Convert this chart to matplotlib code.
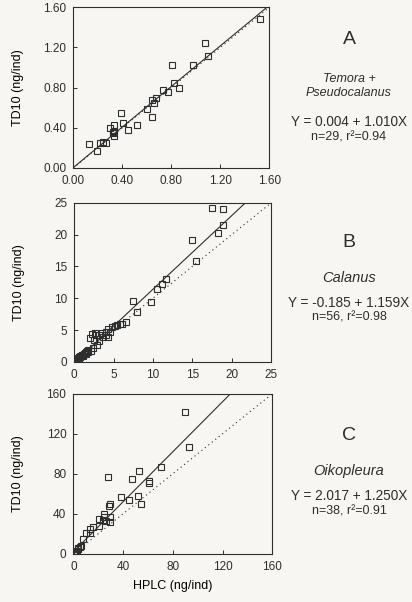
import matplotlib.pyplot as plt
import numpy as np

# panel A: Temora + Pseudocalanus
a_hplc = [0.13, 0.19, 0.22, 0.245, 0.27, 0.30, 0.32, 0.327, 0.33, 0.335, 0.335,
          0.386, 0.408, 0.449, 0.522, 0.60, 0.64, 0.645, 0.657, 0.672, 0.735,
          0.776, 0.806, 0.825, 0.865, 0.974, 1.072, 1.10, 1.52]
a_td10 = [0.235, 0.165, 0.247, 0.26, 0.253, 0.40, 0.36, 0.35, 0.318, 0.43, 0.37,
          0.547, 0.447, 0.38, 0.43, 0.59, 0.507, 0.68, 0.645, 0.693, 0.78,
          0.757, 1.02, 0.847, 0.80, 1.02, 1.247, 1.11, 1.48]

# panel B: Calanus
b_hplc = [17.5, 18.9, 18.9, 18.2, 15.0, 15.45, 11.6, 11.1, 10.5, 7.5, 9.7, 8.0,
          6.6, 6.1, 5.8, 5.5, 5.2, 4.8, 4.3, 4.0, 3.5, 3.1, 2.6, 2.8, 2.3, 1.95,
          2.5, 3.15, 2.9, 2.4, 2.2, 1.8, 4.5, 4.3, 4.0, 3.7,
          0.2, 0.3, 0.35, 0.45, 0.5, 0.6, 0.65, 0.75, 0.8, 0.9, 0.95, 1.05, 1.1,
          1.2, 1.3, 1.35, 1.45, 1.5, 1.6, 1.7]
b_td10 = [24.2, 24.1, 21.5, 20.2, 19.2, 15.8, 13.1, 12.2, 11.5, 9.6, 9.4, 7.9,
          6.2, 6.0, 5.9, 5.8, 5.7, 5.5, 5.1, 4.7, 4.5, 4.2, 4.6, 4.2, 4.3, 3.8,
          3.4, 3.2, 2.6, 2.2, 1.7, 1.8, 4.7, 3.9, 4.2, 3.9,
          0.3, 0.2, 0.5, 0.4, 0.6, 0.5, 0.8, 0.7, 0.9, 0.85, 1.0, 1.1, 0.95,
          1.2, 1.15, 1.4, 1.3, 1.6, 1.7, 1.5]

# panel C: Oikopleura
c_hplc = [90, 93, 70.5, 53, 28, 46.8, 60.8, 61, 38, 52, 45, 54.3, 29.3, 28.7,
          25, 21, 25, 29.2, 29.7, 26, 24, 20.3, 13, 13, 10, 7.6, 6.2, 4, 2.7,
          1.4, 0.8, 2, 1, 0.5, 3.5, 5.3, 16, 1.8]
c_td10 = [142, 106.5, 87, 82.7, 76.7, 74.5, 73, 70.5, 56.5, 58, 53.5, 49.8, 50,
          48, 40, 35, 36.5, 36.5, 31.5, 33.3, 34, 28.3, 25, 21, 21, 15, 8.3,
          5.7, 3.3, 1.7, 0.7, 2.3, 1.2, 0.4, 4.5, 7, 27, 0.8]

letters = ['A', 'B', 'C']
species = ['Temora +\nPseudocalanus', 'Calanus', 'Oikopleura']
intercepts = [0.004, -0.185, 2.017]
slopes = [1.010, 1.159, 1.250]
intercept_txt = ['0.004', '-0.185', '2.017']
slope_txt = ['1.010', '1.159', '1.250']
n_obs = [29, 56, 38]
r2 = ['0.94', '0.98', '0.91']
axis_max = [1.6, 25, 160]
tick_sets = [[0, 0.4, 0.8, 1.2, 1.6], [0, 5, 10, 15, 20, 25], [0, 40, 80, 120, 160]]
tick_fmt = ['%.2f', '%d', '%d']

bg = '#f7f6f2'
ink = '#2e2e2e'
plt.rcParams['font.family'] = ['Liberation Sans', 'DejaVu Sans']
plt.rcParams['text.color'] = ink
plt.rcParams['axes.edgecolor'] = ink
plt.rcParams['xtick.color'] = ink
plt.rcParams['ytick.color'] = ink

fig = plt.figure(figsize=(4.12, 6.02), dpi=100, facecolor=bg)

# axes boxes in figure fractions (left, bottom, width, height)
boxes = [(0.178, 0.721, 0.476, 0.267),
         (0.180, 0.399, 0.478, 0.264),
         (0.178, 0.080, 0.483, 0.266)]
# text block y positions (pixels from top)
text_y = [(40, 86, 122, 137), (243, 278, 303, 318), (436, 471, 496, 511)]
species_size = [9, 10.5, 10.5]

data = [(a_hplc, a_td10), (b_hplc, b_td10), (c_hplc, c_td10)]

for i in range(3):
    ax = fig.add_axes(boxes[i])
    ax.set_facecolor(bg)
    x, y = data[i]
    m = axis_max[i]

    ax.plot(x, y, 's', ms=4.4, mfc='none', mec=ink, mew=0.8, zorder=3)
    # 1:1 line (dotted) and regression line (solid)
    ax.plot([0, m], [0, m], ls=(0, (1, 3)), color=ink, lw=0.8)
    xr = np.array([0, m])
    ax.plot(xr, intercepts[i] + slopes[i] * xr, color=ink, lw=0.8)

    ax.set_xlim(0, m)
    ax.set_ylim(0, m)
    ax.set_xticks(tick_sets[i])
    ax.set_yticks(tick_sets[i])
    ax.set_xticklabels([tick_fmt[i] % t for t in tick_sets[i]])
    ax.set_yticklabels([tick_fmt[i] % t for t in tick_sets[i]])
    ax.tick_params(direction='in', length=3, width=0.7, labelsize=8.5, pad=5)
    for s in ax.spines.values():
        s.set_linewidth(0.8)
    ax.set_ylabel('TD10 (ng/ind)', fontsize=9)
    # same label position for all panels
    ax.yaxis.set_label_coords(-49 / (boxes[i][2] * 412), 0.5)
    if i == 2:
        ax.set_xlabel('HPLC (ng/ind)', fontsize=9, labelpad=5)

    ty = text_y[i]
    cx = 0.847
    fig.text(cx, 1 - ty[0] / 602, letters[i], ha='center', va='center', fontsize=14)
    fig.text(cx, 1 - ty[1] / 602, species[i], ha='center', va='center',
             fontsize=species_size[i], style='italic', linespacing=1.15)
    fig.text(cx, 1 - ty[2] / 602,
             'Y = %s + %sX' % (intercept_txt[i], slope_txt[i]),
             ha='center', va='center', fontsize=9.8)
    fig.text(cx, 1 - ty[3] / 602, 'n=%d, r\u00b2=%s' % (n_obs[i], r2[i]),
             ha='center', va='center', fontsize=9)

fig.savefig('out.png', dpi=100, facecolor=bg)
